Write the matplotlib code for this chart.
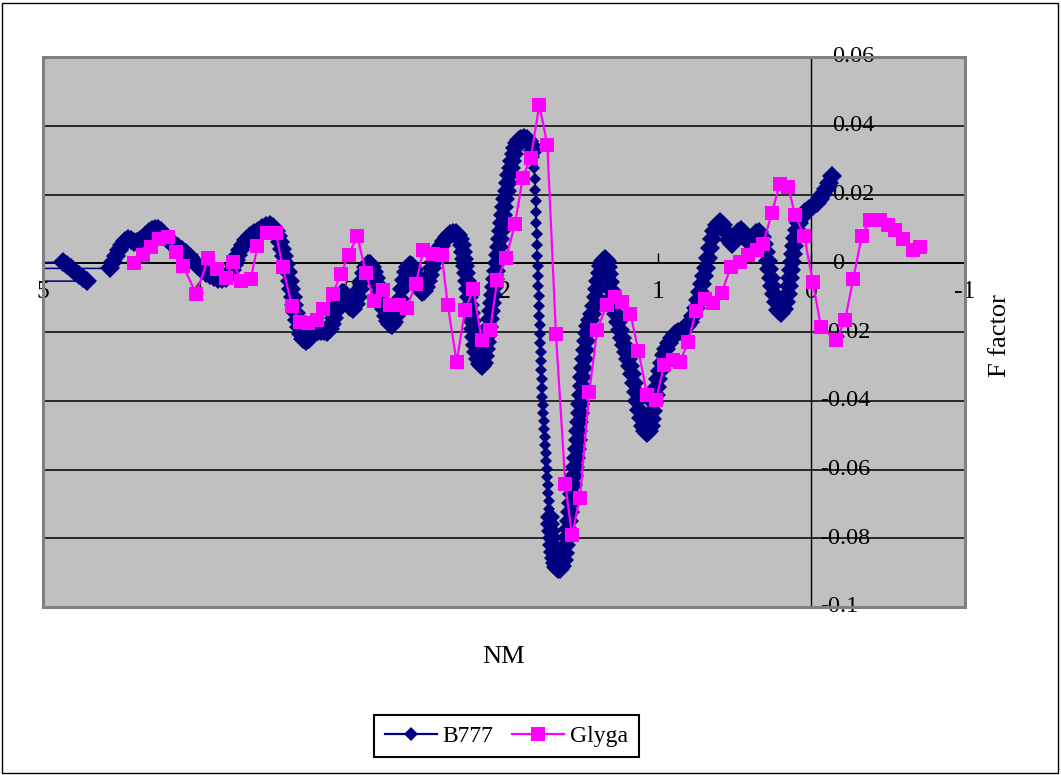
import matplotlib
matplotlib.use("Agg")
import matplotlib.pyplot as plt
from matplotlib.patches import Rectangle
from matplotlib.lines import Line2D

plt.rcParams['font.family'] = ['Liberation Serif', 'DejaVu Serif']

# ---------------- data ----------------
b777_nm = [
    5.4, 4.870, 4.844, 4.818, 4.792, 4.766, 4.740, 4.714, 5.4, 5.4,
    4.564, 4.544, 4.525, 4.505, 4.486, 4.466, 4.447, 4.427, 4.408, 4.388, 4.369, 4.349, 4.330, 4.310, 4.291, 4.271, 4.251, 4.232, 4.212, 4.193, 4.173,
    4.147, 4.121, 4.095, 4.069, 4.043, 4.017, 3.991, 3.965, 3.939, 3.913, 3.887, 3.861, 3.835, 3.809,
    3.789, 3.770, 3.757, 3.744, 3.731, 3.718, 3.698, 3.679, 3.653, 3.627, 3.601, 3.575, 3.549, 3.523,
    3.503, 3.484, 3.471, 3.458, 3.445, 3.432, 3.419, 3.406, 3.393, 3.386, 3.373, 3.366, 3.353, 3.347, 3.334, 3.321, 3.308,
    3.288, 3.269, 3.249, 3.230, 3.210, 3.191, 3.171, 3.152, 3.132, 3.119, 3.106, 3.093, 3.080, 3.067, 3.054, 3.041, 3.028, 3.015, 3.002, 2.982,
    2.963, 2.950, 2.937, 2.924, 2.911, 2.898, 2.885, 2.872, 2.859, 2.846, 2.833, 2.820, 2.807, 2.794, 2.781, 2.768, 2.755, 2.742, 2.729,
    2.716, 2.703, 2.690, 2.677, 2.664, 2.651, 2.638, 2.625, 2.612, 2.599, 2.586, 2.573, 2.560, 2.547, 2.534, 2.521, 2.508, 2.495, 2.482,
    2.469, 2.456, 2.443, 2.430, 2.410, 2.391, 2.371, 2.351, 2.332, 2.312, 2.299, 2.286, 2.273,
    2.267, 2.260, 2.254, 2.247, 2.241, 2.234, 2.228, 2.221, 2.215, 2.208, 2.202, 2.195, 2.189, 2.182, 2.169, 2.156, 2.143,
    2.130, 2.124, 2.117, 2.111, 2.104, 2.098, 2.091, 2.085, 2.078, 2.072, 2.065, 2.059, 2.052, 2.046, 2.039, 2.033, 2.026, 2.020, 2.013, 2.007, 2.000, 1.994,
    1.981, 1.974, 1.968, 1.955, 1.948, 1.935, 1.929, 1.916, 1.903, 1.890, 1.870, 1.851, 1.838, 1.825, 1.812,
    1.805, 1.805, 1.799, 1.799, 1.792, 1.792, 1.792, 1.786, 1.786, 1.786, 1.779, 1.779, 1.779, 1.773, 1.773, 1.773, 1.766, 1.766, 1.766, 1.760, 1.760, 1.760, 1.753, 1.753, 1.753, 1.747, 1.747, 1.740, 1.740, 1.734, 1.734, 1.727, 1.727, 1.721, 1.721, 1.714, 1.714, 1.708, 1.708,
    1.701, 1.701, 1.695, 1.688, 1.688, 1.682, 1.675, 1.669, 1.662, 1.649, 1.636, 1.623, 1.610,
    1.604, 1.597, 1.591, 1.584, 1.578, 1.571, 1.565, 1.558, 1.552, 1.545, 1.539, 1.532, 1.526, 1.519, 1.519, 1.513, 1.506, 1.506, 1.500, 1.493, 1.493, 1.487, 1.480, 1.474, 1.467, 1.461, 1.454,
    1.440, 1.427, 1.414, 1.401, 1.395, 1.388, 1.375, 1.369, 1.356, 1.343, 1.330, 1.323, 1.317, 1.310, 1.304, 1.297,
    1.284, 1.271, 1.258, 1.245, 1.232, 1.219, 1.206, 1.193, 1.180, 1.167, 1.154, 1.141, 1.134, 1.121, 1.108, 1.095, 1.082, 1.069,
    1.056, 1.043, 1.037, 1.030, 1.024, 1.011, 1.004, 0.998, 0.985, 0.972, 0.959, 0.946,
    0.926, 0.907, 0.887, 0.868, 0.848, 0.829, 0.809, 0.790, 0.770, 0.751, 0.738, 0.725, 0.712, 0.699, 0.686, 0.673, 0.660, 0.647, 0.634,
    0.614, 0.595, 0.575, 0.556, 0.536, 0.516, 0.497, 0.477, 0.458, 0.438, 0.419, 0.399, 0.380, 0.360, 0.341, 0.321,
    0.308, 0.295, 0.282, 0.276, 0.263, 0.256, 0.243, 0.230, 0.217, 0.198, 0.178,
    0.165, 0.152, 0.146, 0.139, 0.133, 0.126, 0.120, 0.113, 0.107, 0.094, 0.081, 0.061, 0.041, 0.015, -0.011, -0.037, -0.056, -0.076, -0.095, -0.115, -0.134,
]
b777_f = [
    0.0, 0.0003, -0.0006, -0.0015, -0.0026, -0.0035, -0.0044, -0.0052, -0.0052, -0.0015,
    -0.0015, 0.0003, 0.0020, 0.0038, 0.0052, 0.0064, 0.0070, 0.0067, 0.0061, 0.0061, 0.0067, 0.0073, 0.0081, 0.0090, 0.0096, 0.0099, 0.0099, 0.0093, 0.0081, 0.0070, 0.0061,
    0.0055, 0.0047, 0.0038, 0.0029, 0.0017, 0.0003, -0.0009, -0.0020, -0.0029, -0.0035, -0.0041, -0.0047, -0.0047, -0.0044,
    -0.0035, -0.0020, -0.0006, 0.0009, 0.0023, 0.0038, 0.0052, 0.0067, 0.0079, 0.0087, 0.0093, 0.0102, 0.0108, 0.0111,
    0.0105, 0.0093, 0.0079, 0.0061, 0.0041, 0.0020, -0.0003, -0.0026, -0.0052, -0.0076, -0.0099, -0.0122, -0.0145, -0.0166, -0.0186, -0.0207, -0.0221,
    -0.0227, -0.0221, -0.0209, -0.0201, -0.0198, -0.0198, -0.0198, -0.0201, -0.0192, -0.0177, -0.0160, -0.0140, -0.0119, -0.0099, -0.0087, -0.0087, -0.0099, -0.0113, -0.0128, -0.0134,
    -0.0119, -0.0099, -0.0076, -0.0052, -0.0029, -0.0012, -0.0003, -0.0003, -0.0012, -0.0026, -0.0044, -0.0064, -0.0087, -0.0111, -0.0134, -0.0154, -0.0169, -0.0177, -0.0180,
    -0.0172, -0.0154, -0.0131, -0.0105, -0.0076, -0.0049, -0.0026, -0.0012, -0.0006, -0.0009, -0.0020, -0.0038, -0.0058, -0.0076, -0.0084, -0.0081, -0.0070, -0.0052, -0.0035,
    -0.0015, 0.0003, 0.0017, 0.0032, 0.0049, 0.0064, 0.0076, 0.0084, 0.0087, 0.0087, 0.0081, 0.0070, 0.0052,
    0.0032, 0.0012, -0.0009, -0.0029, -0.0052, -0.0076, -0.0099, -0.0122, -0.0145, -0.0169, -0.0192, -0.0215, -0.0239, -0.0259, -0.0279, -0.0294, -0.0300,
    -0.0291, -0.0271, -0.0250, -0.0230, -0.0209, -0.0186, -0.0163, -0.0140, -0.0116, -0.0093, -0.0070, -0.0047, -0.0023, 0.0000, 0.0023, 0.0047, 0.0070, 0.0093, 0.0116, 0.0140, 0.0163, 0.0186,
    0.0209, 0.0233, 0.0256, 0.0276, 0.0297, 0.0317, 0.0335, 0.0349, 0.0358, 0.0362, 0.0364, 0.0362, 0.0356, 0.0343, 0.0326,
    0.0308, 0.0276, 0.0244, 0.0212, 0.0180, 0.0148, 0.0116, 0.0084, 0.0052, 0.0020, -0.0009, -0.0038, -0.0067, -0.0096, -0.0125, -0.0154, -0.0180, -0.0207, -0.0233, -0.0259, -0.0285, -0.0311, -0.0337, -0.0364, -0.0390, -0.0413, -0.0436, -0.0460, -0.0483, -0.0506, -0.0529, -0.0553, -0.0576, -0.0599, -0.0623, -0.0646, -0.0669, -0.0692, -0.0715,
    -0.0739, -0.0759, -0.0780, -0.0800, -0.0820, -0.0841, -0.0858, -0.0873, -0.0884, -0.0890, -0.0890, -0.0881, -0.0864,
    -0.0844, -0.0820, -0.0797, -0.0774, -0.0751, -0.0724, -0.0698, -0.0672, -0.0646, -0.0620, -0.0593, -0.0567, -0.0541, -0.0515, -0.0489, -0.0463, -0.0436, -0.0410, -0.0384, -0.0358, -0.0332, -0.0305, -0.0279, -0.0253, -0.0227, -0.0204, -0.0183,
    -0.0166, -0.0148, -0.0125, -0.0099, -0.0076, -0.0052, -0.0029, -0.0009, 0.0006, 0.0012, 0.0006, -0.0012, -0.0032, -0.0055, -0.0079, -0.0102,
    -0.0125, -0.0148, -0.0172, -0.0195, -0.0218, -0.0239, -0.0259, -0.0279, -0.0300, -0.0323, -0.0349, -0.0375, -0.0401, -0.0428, -0.0451, -0.0474, -0.0489, -0.0495,
    -0.0489, -0.0474, -0.0454, -0.0431, -0.0407, -0.0384, -0.0361, -0.0337, -0.0314, -0.0291, -0.0268, -0.0250,
    -0.0233, -0.0218, -0.0207, -0.0201, -0.0198, -0.0192, -0.0183, -0.0172, -0.0154, -0.0131, -0.0108, -0.0084, -0.0061, -0.0038, -0.0015, 0.0015, 0.0044, 0.0070, 0.0093,
    0.0111, 0.0119, 0.0111, 0.0090, 0.0067, 0.0055, 0.0070, 0.0090, 0.0096, 0.0087, 0.0067, 0.0058, 0.0073, 0.0087, 0.0090, 0.0076,
    0.0055, 0.0032, 0.0006, -0.0017, -0.0044, -0.0067, -0.0090, -0.0113, -0.0137, -0.0145, -0.0134,
    -0.0113, -0.0090, -0.0067, -0.0044, -0.0020, 0.0003, 0.0026, 0.0049, 0.0073, 0.0096, 0.0116, 0.0134, 0.0148, 0.0157, 0.0166, 0.0175, 0.0186, 0.0201, 0.0215, 0.0233, 0.0253,
]
# the fast-descent run of B777 samples (index range) where markers stand apart
b777_sparse_start, b777_sparse_end = 201, 240

glyga_nm = [
    4.408, 4.351, 4.299, 4.243, 4.185, 4.135, 4.087, 4.004, 3.924, 3.866,
    3.809, 3.762, 3.710, 3.648, 3.605, 3.544, 3.484, 3.440, 3.380, 3.327,
    3.277, 3.219, 3.176, 3.115, 3.063, 3.011, 2.955, 2.898, 2.846, 2.789,
    2.742, 2.681, 2.633, 2.573, 2.525, 2.460, 2.405, 2.366, 2.308, 2.254,
    2.200, 2.145, 2.091, 2.044, 1.987, 1.928, 1.878, 1.826, 1.770, 1.718,
    1.662, 1.601, 1.558, 1.506, 1.445, 1.393, 1.332, 1.278, 1.229, 1.177,
    1.125, 1.068, 1.011, 0.959, 0.902, 0.855, 0.801, 0.751, 0.692, 0.638,
    0.583, 0.525, 0.464, 0.410, 0.356, 0.313, 0.258, 0.204, 0.150, 0.106,
    0.046, -0.009, -0.063, -0.160, -0.219, -0.273, -0.328, -0.382, -0.447, -0.501,
    -0.544, -0.598, -0.660, -0.707,
]
glyga_f = [
    0.0001, 0.0023, 0.0047, 0.0072, 0.0075, 0.0033, -0.0009, -0.0088, 0.0014, -0.0018,
    -0.0042, 0.0004, -0.0051, -0.0047, 0.0049, 0.0088, 0.0088, -0.0011, -0.0124, -0.0171,
    -0.0175, -0.0166, -0.0132, -0.0090, -0.0032, 0.0023, 0.0079, -0.0028, -0.0111, -0.0077,
    -0.0122, -0.0122, -0.0130, -0.0059, 0.0038, 0.0026, 0.0023, -0.0122, -0.0287, -0.0137,
    -0.0076, -0.0222, -0.0195, -0.0049, 0.0015, 0.0115, 0.0249, 0.0307, 0.0460, 0.0345,
    -0.0205, -0.0641, -0.0791, -0.0683, -0.0374, -0.0193, -0.0122, -0.0099, -0.0113, -0.0148,
    -0.0255, -0.0384, -0.0399, -0.0297, -0.0282, -0.0287, -0.0229, -0.0140, -0.0103, -0.0117,
    -0.0086, -0.0011, 0.0004, 0.0023, 0.0038, 0.0057, 0.0145, 0.0232, 0.0222, 0.0140,
    0.0079, -0.0054, -0.0185, -0.0224, -0.0166, -0.0045, 0.0079, 0.0127, 0.0125, 0.0111,
    0.0096, 0.0072, 0.0040, 0.0047,
]

x_ticks = [5, 4, 3, 2, 1, 0, -1]
x_tick_labels = ['5', '4', '3', '2', '1', '0', '-1']
y_ticks = [0.06, 0.04, 0.02, 0.0, -0.02, -0.04, -0.06, -0.08, -0.1]
y_tick_labels = ['0.06', '0.04', '0.02', '0', '-0.02', '-0.04', '-0.06', '-0.08', '-0.1']

# ---------------- figure ----------------
W, H = 1061, 775
NAVY = '#000080'
MAGENTA = '#FF00FF'
fig = plt.figure(figsize=(W / 100, H / 100), dpi=100)
fig.patch.set_facecolor('white')
fig.patches.append(Rectangle((2 / W, 2 / H), (W - 5) / W, (H - 5) / H, transform=fig.transFigure,
                             fill=False, edgecolor='black', linewidth=1.0))

ax = fig.add_axes([43 / W, 1 - 607 / H, 922 / W, 550 / H])
ax.set_facecolor('#C0C0C0')
ax.set_xlim(5, -1)
ax.set_ylim(-0.1, 0.06)

for s in ['top', 'right']:
    ax.spines[s].set_visible(False)
ax.spines['bottom'].set_position(('data', 0))
ax.spines['bottom'].set_color('black')
ax.spines['bottom'].set_linewidth(1.3)
ax.spines['left'].set_position(('data', 0))
ax.spines['left'].set_color('black')
ax.spines['left'].set_linewidth(1.0)
ax.add_patch(Rectangle((0, 0), 1, 1, transform=ax.transAxes, fill=False,
                       edgecolor='#808080', linewidth=2.2, clip_on=False, zorder=5))

for yv in y_ticks[1:-1]:
    ax.axhline(yv, color='black', linewidth=1.1, zorder=1)

ax.set_xticks(x_ticks)
ax.set_xticklabels(x_tick_labels)
ax.tick_params(axis='x', direction='in', length=7, width=1.0, pad=12.5, labelsize=18.5)
ax.set_yticks([])

for yv, lab in zip(y_ticks, y_tick_labels):
    xpos = (832 - 43) / 922 if not lab.startswith('-') else (820 - 43) / 922
    ax.text(xpos, yv, lab, transform=ax.get_yaxis_transform(), ha='left', va='center',
            fontsize=17.5, clip_on=False)

# B777: line with diamonds; the densely sampled parts overlap into a thick band
ax.plot(b777_nm, b777_f, color=NAVY, linewidth=1.1, marker='D', markersize=6.5,
        markeredgewidth=0, zorder=3, label='B777')
dense_nm = b777_nm[:b777_sparse_start] + b777_nm[b777_sparse_end:]
dense_f = b777_f[:b777_sparse_start] + b777_f[b777_sparse_end:]
ax.plot(dense_nm, dense_f, linestyle='none', color=NAVY, marker='D', markersize=10.5,
        markeredgewidth=0, zorder=3)
ax.plot(glyga_nm, glyga_f, color=MAGENTA, linewidth=1.6, marker='s', markersize=10.5,
        markeredgewidth=0, zorder=4, label='Glyga')

fig.text(504 / W, 1 - 657 / H, 'NM', ha='center', va='center', fontsize=19)
fig.text(1000 / W, 1 - 336 / H, 'F factor', ha='center', va='center', rotation=90, fontsize=19)

handles = [Line2D([], [], color=NAVY, linewidth=1.6, marker='D', markersize=7, markeredgewidth=0),
           Line2D([], [], color=MAGENTA, linewidth=1.6, marker='s', markersize=10, markeredgewidth=0)]
leg = fig.legend(handles, ['B777', 'Glyga'], loc='center', bbox_to_anchor=(506.5 / W, 1 - 736 / H),
                 ncol=2, frameon=True, fancybox=False, edgecolor='black', framealpha=1,
                 fontsize=17, handlelength=2.2, handletextpad=0.25, columnspacing=0.8,
                 borderpad=0.45, borderaxespad=0)
leg.get_frame().set_linewidth(1.5)

fig.savefig('out.png', dpi=100)
